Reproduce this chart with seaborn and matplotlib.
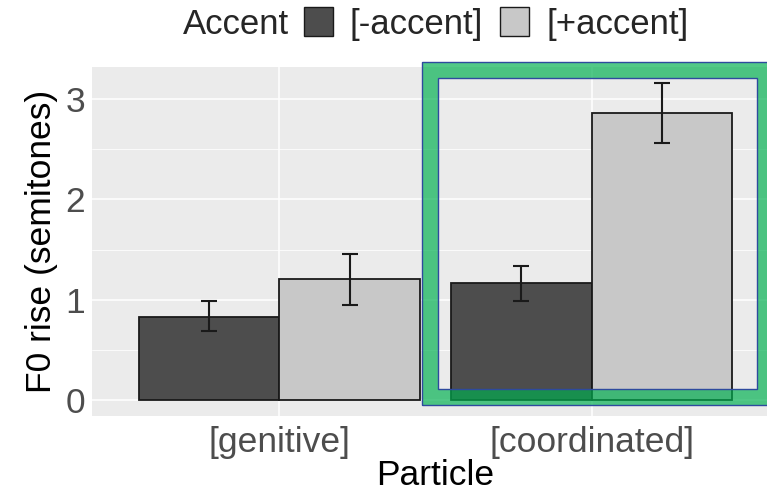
import matplotlib
matplotlib.use("Agg")
import matplotlib.pyplot as plt
import seaborn as sns
import pandas as pd
from matplotlib.patches import Rectangle, Patch
from matplotlib.ticker import MultipleLocator

# ---- data ----
particles = ["[genitive]", "[coordinated]"]
accents = ["[-accent]", "[+accent]"]
mean_minus = [0.83, 1.17]
mean_plus = [1.21, 2.86]
low_minus = [0.69, 0.99]
high_minus = [0.99, 1.34]
low_plus = [0.95, 2.56]
high_plus = [1.46, 3.16]
y_ticks = [0, 1, 2, 3]
colors = ["#4D4D4D", "#C8C8C8"]

df = pd.DataFrame({
    "Particle": particles * 2,
    "Accent": [accents[0]] * 2 + [accents[1]] * 2,
    "F0": mean_minus + mean_plus,
    "lo": low_minus + low_plus,
    "hi": high_minus + high_plus,
})

sns.set_theme(style="darkgrid")
plt.rcParams["font.family"] = ["Liberation Sans", "DejaVu Sans"]

FS = 25.5
LFS = 25
W, H = 767, 491
fig = plt.figure(figsize=(W / 100, H / 100), dpi=100)
ax = fig.add_axes([92 / W, (H - 416) / H, (779 - 92) / W, (416 - 67) / H])
ax.set_facecolor("#EBEBEB")

sns.barplot(data=df, x="Particle", y="F0", hue="Accent", order=particles,
            hue_order=accents, palette=colors, edgecolor="#1a1a1a",
            linewidth=1.3, width=0.9, errorbar=None, ax=ax, legend=False,
            saturation=1)

# error bars from bar positions
for acc, cont in zip(accents, ax.containers):
    sub = df[df["Accent"] == acc].set_index("Particle").loc[particles]
    for bar, (_, row) in zip(cont.patches, sub.iterrows()):
        xc = bar.get_x() + bar.get_width() / 2
        ax.errorbar([xc], [row["F0"]],
                    yerr=[[row["F0"] - row["lo"]], [row["hi"] - row["F0"]]],
                    fmt="none", ecolor="#1a1a1a", elinewidth=1.5,
                    capsize=5.8, capthick=1.5, zorder=5)

ax.set_xlim(-0.6, 1.6)
ax.set_ylim(-0.158, 3.318)
ax.set_yticks(y_ticks)
ax.yaxis.set_minor_locator(MultipleLocator(0.5))
ax.grid(which="major", color="white", linewidth=1.1)
ax.grid(which="minor", axis="y", color="white", linewidth=0.55)
ax.set_axisbelow(True)
for s in ax.spines.values():
    s.set_visible(False)
ax.tick_params(axis="both", which="major", length=3, width=0.8, color="#333333",
               labelcolor="#4D4D4D", labelsize=FS, pad=2)
ax.tick_params(axis="x", which="major", pad=4)
ax.tick_params(axis="both", which="minor", length=0)
ax.set_xlabel("Particle", fontsize=FS, color="black", labelpad=0)
ax.set_ylabel("F0 rise (semitones)", fontsize=FS, color="black", labelpad=5)

# legend
fig.text(183 / W, 1 - 24 / H, "Accent", fontsize=LFS, va="center", ha="left")
handles = [Patch(facecolor=c, edgecolor="#1a1a1a", linewidth=1.0) for c in colors]
fs_px = LFS * 100 / 72
fig.legend(handles, accents, loc="center left", bbox_to_anchor=(304 / W, 1 - 24 / H),
           ncol=2, frameon=False, fontsize=LFS, handlelength=29 / fs_px,
           handleheight=30 / fs_px, handletextpad=17 / fs_px,
           columnspacing=17 / fs_px, borderpad=0, borderaxespad=0)

# highlight box
tf = fig.transFigure
def fx(x):
    return x / W
def fy(y):
    return 1 - y / H
green = Rectangle((fx(429.7), fy(397)), fx(764.7) - fx(429.7), fy(70.3) - fy(397),
                  transform=tf, fill=False, edgecolor=(0.0, 0.69, 0.31, 0.68),
                  linewidth=11.5, joinstyle="miter", zorder=10)
fig.add_artist(green)
for (l, t, r, b) in [(421.7, 62.3, 772.7, 405), (437.7, 78.3, 756.7, 389)]:
    fig.add_artist(Rectangle((fx(l), fy(b)), fx(r) - fx(l), fy(t) - fy(b),
                             transform=tf, fill=False, edgecolor="#2E4A9E",
                             linewidth=1.0, zorder=11))

fig.savefig("out.png", dpi=100)
